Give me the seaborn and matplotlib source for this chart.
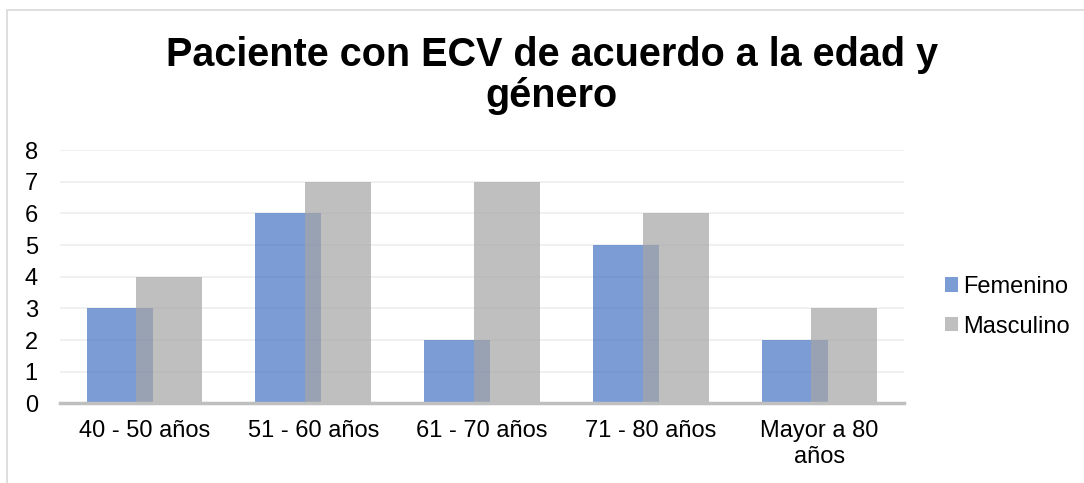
import numpy as np
import pandas as pd
import matplotlib
matplotlib.use("Agg")
import matplotlib.pyplot as plt
import seaborn as sns
from matplotlib.patches import Rectangle, Patch

categories = ["40 - 50 años", "51 - 60 años", "61 - 70 años", "71 - 80 años", "Mayor a 80\naños"]
femenino = [3, 6, 2, 5, 2]
masculino = [4, 7, 7, 6, 3]
series_names = ["Femenino", "Masculino"]
yticks = [0, 1, 2, 3, 4, 5, 6, 7, 8]
title = "Paciente con ECV de acuerdo a la edad y\ngénero"

sns.set_theme(style="white")
plt.rcParams['font.family'] = ['Liberation Sans', 'DejaVu Sans']
plt.rcParams['text.color'] = '#000000'

fig = plt.figure(figsize=(10.84, 4.83), dpi=100)
ax = fig.add_axes([0.0554, 0.1646, 0.7786, 0.5248])

idx = np.arange(len(categories))
off = 0.147
bw = 0.391
df_f = pd.DataFrame({"x": idx - off, "y": femenino})
df_m = pd.DataFrame({"x": idx + off, "y": masculino})

sns.barplot(data=df_f, x="x", y="y", native_scale=True, width=bw,
            color="#4472C4", alpha=0.7, saturation=1, ax=ax, zorder=2,
            linewidth=0, errorbar=None)
sns.barplot(data=df_m, x="x", y="y", native_scale=True, width=bw,
            color="#A5A5A5", alpha=0.7, saturation=1, ax=ax, zorder=3,
            linewidth=0, errorbar=None)

ax.set_xlim(-0.5, len(categories) - 0.5)
ax.set_ylim(0, 8)
ax.set_yticks(yticks)
ax.set_yticklabels([str(v) for v in yticks], fontsize=17, color="#000000")
ax.set_xticks(idx)
ax.set_xticklabels(categories, fontsize=17, color="#000000", linespacing=1.2)
ax.tick_params(axis="y", length=0, pad=16)
ax.tick_params(axis="x", length=0, pad=12)
ax.set_xlabel("")
ax.set_ylabel("")
ax.grid(axis="y", color="#EDEDED", linewidth=1.2, zorder=0)
ax.set_axisbelow(True)
for s in ["left", "right", "top"]:
    ax.spines[s].set_visible(False)
ax.spines["bottom"].set_color("#BFBFBF")
ax.spines["bottom"].set_linewidth(2.5)
ax.spines["bottom"].set_zorder(4)

handles = [Patch(facecolor="#4472C4", alpha=0.7, edgecolor="none"),
           Patch(facecolor="#A5A5A5", alpha=0.7, edgecolor="none")]
leg = fig.legend(handles, series_names, loc="center left", bbox_to_anchor=(0.872, 0.365),
                 frameon=False, fontsize=17, handlelength=0.55, handleheight=0.55,
                 handletextpad=0.22, labelspacing=0.75, borderpad=0, borderaxespad=0)
for t in leg.get_texts():
    t.set_color("#000000")

fig.text(0.509, 1 - 107 / 483, title, ha="center", va="baseline", fontsize=28.5,
         fontweight="bold", linespacing=1.1, color="#000000")

fig.patches.append(Rectangle((7 / 1084, -0.01), 1.1, (483 - 10) / 483 + 0.01,
                             transform=fig.transFigure, fill=False,
                             edgecolor="#D9D9D9", linewidth=1.2))

fig.savefig("out.png", dpi=100)
